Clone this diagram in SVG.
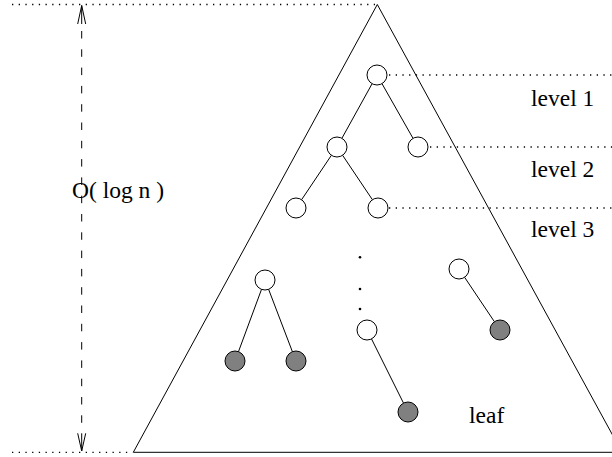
<svg xmlns="http://www.w3.org/2000/svg" width="612" height="457" viewBox="0 0 612 457">
<style>
.ln{stroke:#000;stroke-width:1;fill:none}
.dot{stroke:#000;stroke-width:1.3;stroke-dasharray:1.3 5.4;fill:none}
.dash{stroke:#000;stroke-width:1;stroke-dasharray:7.5 10.8;fill:none}
.n{fill:#fff;stroke:#000;stroke-width:1}
.g{fill:#808080;stroke:#000;stroke-width:1}
.t{font-family:"Liberation Serif","Times New Roman",serif;font-size:23.5px;fill:#000}
</style>
<rect width="612" height="457" fill="#fff"/>
<g id="triangle">
<polygon class="ln" points="377.3,4.5 133.3,452.3 622,452.3"/>
</g>
<g id="guides">
<line class="dot" x1="12" y1="4.5" x2="375" y2="4.5"/>
<line class="dot" x1="12" y1="452.3" x2="132" y2="452.3"/>
<line class="dot" x1="389" y1="75" x2="612" y2="75"/>
<line class="dot" x1="430" y1="147" x2="612" y2="147"/>
<line class="dot" x1="389" y1="208" x2="612" y2="208"/>
</g>
<g id="height-arrow">
<line class="dash" x1="81.7" y1="31" x2="81.7" y2="426"/>
<path class="ln" d="M77.7,24 L81.7,5.5 L85.7,24 M81.7,5.5 L81.7,24"/>
<path class="ln" d="M77.7,433.3 L81.7,451 L85.7,433.3 M81.7,451 L81.7,433.3"/>
</g>
<g id="connectors">
<line class="ln" x1="372.1" y1="83.7" x2="341.9" y2="138.3"/>
<line class="ln" x1="382" y1="83.7" x2="413" y2="138.3"/>
<line class="ln" x1="331.4" y1="155.3" x2="301.6" y2="199.7"/>
<line class="ln" x1="342.6" y1="155.3" x2="372.4" y2="199.7"/>
<line class="ln" x1="261.5" y1="289.4" x2="238.5" y2="351.6"/>
<line class="ln" x1="268.6" y1="289.3" x2="292.4" y2="351.7"/>
<line class="ln" x1="371.5" y1="338.9" x2="403.5" y2="403.1"/>
<line class="ln" x1="464.6" y1="277.3" x2="494.4" y2="321.7"/>
</g>
<g id="root"><circle class="n" cx="377" cy="75" r="10"/></g>
<g id="l2-left"><circle class="n" cx="337" cy="147" r="10"/></g>
<g id="l2-right"><circle class="n" cx="418" cy="147" r="10"/></g>
<g id="l3-left"><circle class="n" cx="296" cy="208" r="10"/></g>
<g id="l3-right"><circle class="n" cx="378" cy="208" r="10"/></g>
<g id="sub-root"><circle class="n" cx="265" cy="280" r="10"/></g>
<g id="leaf-a"><circle class="g" cx="235" cy="361" r="10"/></g>
<g id="leaf-b"><circle class="g" cx="296" cy="361" r="10"/></g>
<g id="mid-node"><circle class="n" cx="367" cy="330" r="10"/></g>
<g id="leaf-c"><circle class="g" cx="408" cy="412" r="10"/></g>
<g id="right-node"><circle class="n" cx="459" cy="269" r="10"/></g>
<g id="leaf-d"><circle class="g" cx="500" cy="330" r="10"/></g>
<g id="ellipsis">
<circle cx="360" cy="257.3" r="1.3" fill="#000"/>
<circle cx="360" cy="289" r="1.3" fill="#000"/>
<circle cx="360" cy="309" r="1.3" fill="#000"/>
</g>
<g id="labels">
<text class="t" x="531" y="106">level 1</text>
<text class="t" x="531" y="177">level 2</text>
<text class="t" x="531" y="237">level 3</text>
<text class="t" x="72" y="198">O( log n )</text>
<text class="t" x="469" y="423">leaf</text>
</g>
</svg>
